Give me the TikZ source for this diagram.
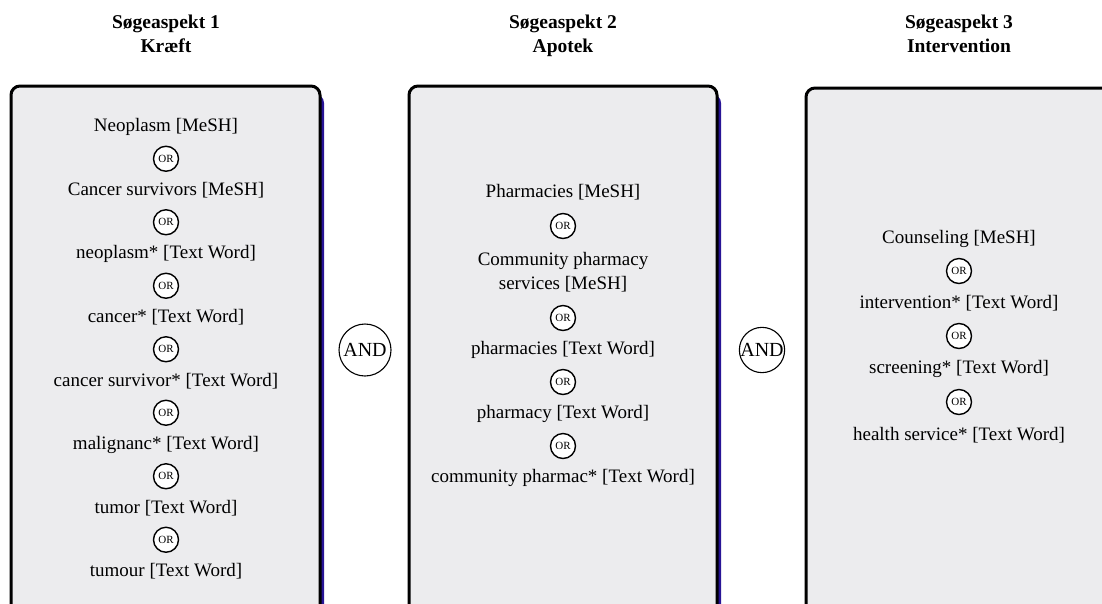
\documentclass[tikz,border=0pt]{standalone}
\usepackage{fontspec}
\setmainfont{Liberation Serif}
\definecolor{boxfill}{RGB}{236,236,238}
\definecolor{shadowblue}{RGB}{40,20,150}
\tikzset{
  aspectbox/.style={draw=black, line width=3pt, fill=boxfill, rounded corners=9pt},
  shadowbox/.style={fill=shadowblue, rounded corners=9pt},
  term/.style={font=\fontsize{19}{24}\selectfont, align=center, inner sep=0pt},
  title/.style={font=\fontsize{19.5}{23.5}\selectfont\bfseries, align=center, inner sep=0pt, anchor=north},
  orc/.style={draw, circle, line width=1.4pt, fill=white, minimum size=25pt, inner sep=0pt, font=\fontsize{11}{11}\selectfont},
  andc/.style={draw, circle, line width=1.1pt, fill=white, minimum size=52pt, inner sep=0pt, font=\fontsize{20}{22}\selectfont}
}
\begin{document}
\begin{tikzpicture}[x=1pt,y=-1pt]
\useasboundingbox (0,0) rectangle (1102,603);
% boxes
\fill[shadowbox] (14,94) rectangle (324,630);
\fill[shadowbox] (412,94) rectangle (721,630);
\draw[aspectbox] (11,86) rectangle (320,630);
\draw[aspectbox] (409,86) rectangle (717,630);
\draw[aspectbox] (806,88) rectangle (1120,630);
% titles
\node[title] (t1) at (166,15) {Søgeaspekt 1\\Kræft};
\node[title] (t2) at (563,15) {Søgeaspekt 2\\Apotek};
\node[title] (t3) at (959,15) {Søgeaspekt 3\\Intervention};
% column 1
\node[term] (a1) at (166,127) {Neoplasm [MeSH]};
\node[orc] (ao1) at (166,158.75) {OR};
\node[term] (a2) at (166,190.5) {Cancer survivors [MeSH]};
\node[orc] (ao2) at (166,222.25) {OR};
\node[term] (a3) at (166,254) {neoplasm* [Text Word]};
\node[orc] (ao3) at (166,285.75) {OR};
\node[term] (a4) at (166,317.5) {cancer* [Text Word]};
\node[orc] (ao4) at (166,349.25) {OR};
\node[term] (a5) at (166,381) {cancer survivor* [Text Word]};
\node[orc] (ao5) at (166,412.75) {OR};
\node[term] (a6) at (166,444.5) {malignanc* [Text Word]};
\node[orc] (ao6) at (166,476.25) {OR};
\node[term] (a7) at (166,508) {tumor [Text Word]};
\node[orc] (ao7) at (166,539.75) {OR};
\node[term] (a8) at (166,571.5) {tumour [Text Word]};
% AND 1
\node[andc] (and1) at (365,350) {AND};
% column 2
\node[term] (b1) at (563,192) {Pharmacies [MeSH]};
\node[orc] (bo1) at (563,226) {OR};
\node[term] (b2) at (563,272) {Community pharmacy\\services [MeSH]};
\node[orc] (bo2) at (563,318) {OR};
\node[term] (b3) at (563,350) {pharmacies [Text Word]};
\node[orc] (bo3) at (563,382) {OR};
\node[term] (b4) at (563,414) {pharmacy [Text Word]};
\node[orc] (bo4) at (563,446) {OR};
\node[term] (b5) at (563,478) {community pharmac* [Text Word]};
% AND 2
\node[andc, minimum size=45pt] (and2) at (762,350) {AND};
% column 3
\node[term] (c1) at (959,239) {Counseling [MeSH]};
\node[orc] (co1) at (959,271) {OR};
\node[term] (c2) at (959,303) {intervention* [Text Word]};
\node[orc] (co2) at (959,336) {OR};
\node[term] (c3) at (959,369) {screening* [Text Word]};
\node[orc] (co3) at (959,402) {OR};
\node[term] (c4) at (959,435) {health service* [Text Word]};
\end{tikzpicture}
\end{document}
